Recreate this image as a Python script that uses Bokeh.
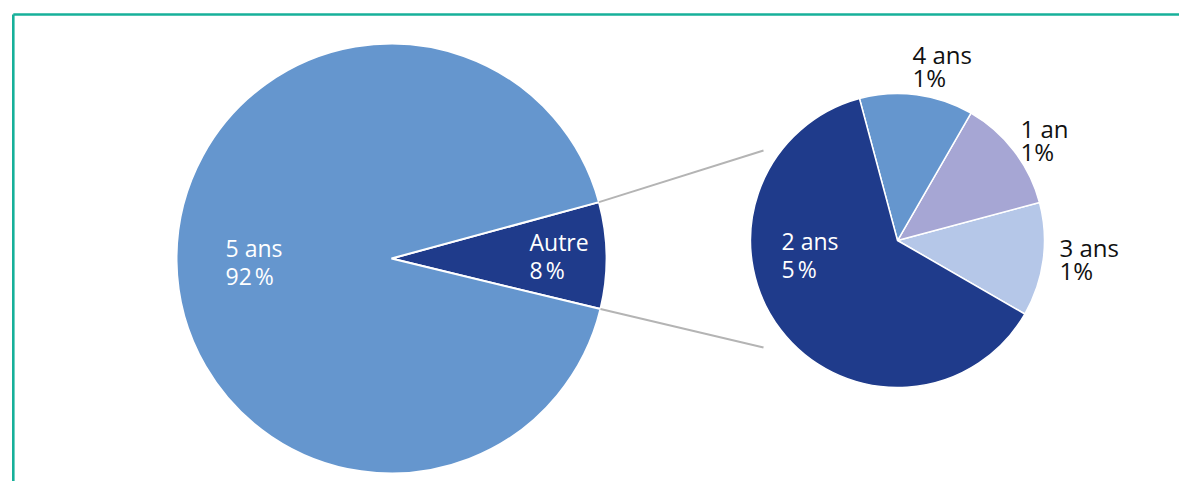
import math
from bokeh.plotting import figure
from bokeh.models import Range1d
from bokeh.core.properties import value
from bokeh.embed import file_html
from bokeh.resources import INLINE

# ---- data ----
main_labels = ["5 ans", "Autre"]
main_values = [92, 8]
sub_labels = ["3 ans", "1 an", "4 ans", "2 ans"]
sub_values = [1, 1, 1, 5]

# ---- styles / layout ----
main_colors = {"5 ans": "#6596ce", "Autre": "#1f3b8b"}
sub_colors = {"3 ans": "#b5c7e8", "1 an": "#a6a6d4", "4 ans": "#6596ce", "2 ans": "#1f3b8b"}

W, H = 1179, 481
IMG_H = 497


def Y(img_y):
    return IMG_H - img_y


p = figure(width=W, height=H, output_backend="svg", toolbar_location=None,
           x_range=Range1d(0, W), y_range=Range1d(Y(H), Y(0)),
           min_border=0, outline_line_color=None)
p.axis.visible = False
p.grid.visible = False
p.background_fill_color = "white"
p.border_fill_color = "white"

# teal frame (top and left edges visible)
teal = "#17b09a"
p.segment(x0=[12.8, 12.8], y0=[Y(14), Y(14)], x1=[1300, 12.8], y1=[Y(14), Y(600)],
          line_color=teal, line_width=2.6)


def pie_angles(vals, start_deg):
    total = sum(vals)
    starts, ends = [], []
    a = math.radians(start_deg)
    for v in vals:
        b = a + 2 * math.pi * v / total
        starts.append(a)
        ends.append(b)
        a = b
    return starts, ends


# main pie: "Autre" slice first, starting below horizontal
order = ["Autre", "5 ans"]
ovals = [main_values[main_labels.index(k)] for k in order]
ms, me = pie_angles(ovals, -13.6)
mcx, mcy, mr = 391, Y(258), 215
p.wedge(x=[mcx] * 2, y=[mcy] * 2, radius=mr, start_angle=ms, end_angle=me,
        fill_color=[main_colors[k] for k in order], line_color="white", line_width=2)

# sub pie
ss, se = pie_angles(sub_values, -30)
scx, scy, sr = 897, Y(240), 147
p.wedge(x=[scx] * 4, y=[scy] * 4, radius=sr, start_angle=ss, end_angle=se,
        fill_color=[sub_colors[k] for k in sub_labels], line_color="white", line_width=1.5)

# connector lines from Autre slice edges
a_top, a_bot = me[0], ms[0]
p.segment(x0=[mcx + mr * math.cos(a_top), mcx + mr * math.cos(a_bot)],
          y0=[mcy + mr * math.sin(a_top), mcy + mr * math.sin(a_bot)],
          x1=[763, 763], y1=[Y(150), Y(347)],
          line_color="#b4b4b4", line_width=2)

# labels
font = value("Open Sans")
white_pos = {"5 ans": (225, 247), "Autre": (529, 241), "2 ans": (781, 240)}
white_vals = {"5 ans": main_values[0], "Autre": main_values[1], "2 ans": sub_values[3]}
wl = list(white_pos.keys())
p.text(x=[white_pos[k][0] for k in wl], y=[Y(white_pos[k][1]) for k in wl], text=wl,
       text_font=font, text_font_size="23px", text_color="white",
       text_align="left", text_baseline="middle")
p.text(x=[white_pos[k][0] for k in wl], y=[Y(white_pos[k][1] + 28) for k in wl],
       text=[f"{white_vals[k]}\u202f%" for k in wl],
       text_font=font, text_font_size="23px", text_color="white",
       text_align="left", text_baseline="middle")

black_pos = {"4 ans": (912, 54), "1 an": (1020, 128), "3 ans": (1059, 247)}
bl = list(black_pos.keys())
p.text(x=[black_pos[k][0] for k in bl], y=[Y(black_pos[k][1]) for k in bl], text=bl,
       text_font=font, text_font_size="24px", text_color="#111111",
       text_align="left", text_baseline="middle")
p.text(x=[black_pos[k][0] for k in bl], y=[Y(black_pos[k][1] + 23) for k in bl],
       text=[f"{sub_values[sub_labels.index(k)]}%" for k in bl],
       text_font=font, text_font_size="24px", text_color="#111111",
       text_align="left", text_baseline="middle")

open("out.html", "w").write(file_html(p, INLINE))
